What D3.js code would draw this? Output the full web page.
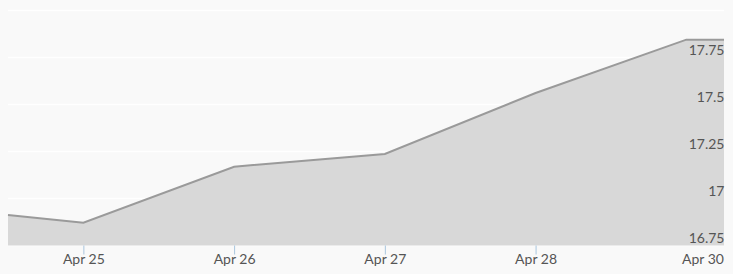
<!DOCTYPE html>
<html>
<head>
<meta charset="utf-8">
<style>
    body { margin: 0; background: #f9f9f9; }
    svg { display: block; }
    .axis text { font-family: Lato, 'Open Sans', sans-serif; font-size: 14px; fill: #555; }
    .x .domain, .y .domain { display: none; }
    .x .tick line { stroke: #a9c6de; }
    .grid line { stroke: #fff; stroke-width: 1.5; }
</style>
</head>
<body>
<svg width="733" height="274"></svg>
<script src="https://d3js.org/d3.v7.min.js"></script>
<script>
    // data
    let dates = ["2024-04-24T12:00", "2024-04-25T00:00", "2024-04-26T00:00", "2024-04-27T00:00",
                 "2024-04-28T00:00", "2024-04-29T00:00", "2024-04-29T06:00"];
    let values = [16.912, 16.871, 17.169, 17.237, 17.561, 17.845, 17.845];
    let yTicks = [16.75, 17, 17.25, 17.5, 17.75];
    let gridTicks = [16.75, 17, 17.25, 17.5, 17.75, 18];
    let xTickDates = ["2024-04-25", "2024-04-26", "2024-04-27", "2024-04-28"];
    let lastLabel = "Apr 30";

    let data = dates.map((d, i) => ({ date: new Date(d), value: values[i] }));

    let svg = d3.select("svg");
    let margin = { top: 10.5, right: 9, bottom: 28.5, left: 8 };
    let width = 733, height = 274;

    let x = d3.scaleTime()
        .domain(d3.extent(data, d => d.date))
        .range([margin.left, width - margin.right]);

    let y = d3.scaleLinear()
        .domain([16.75, 18])
        .range([height - margin.bottom, margin.top]);

    // white grid lines behind the area
    svg.append("g")
        .attr("class", "grid")
        .selectAll("line")
        .data(gridTicks)
        .join("line")
        .attr("x1", margin.left)
        .attr("x2", width - margin.right)
        .attr("y1", d => y(d))
        .attr("y2", d => y(d));

    let area = d3.area()
        .x(d => x(d.date))
        .y0(y(16.75))
        .y1(d => y(d.value));

    let line = d3.line()
        .x(d => x(d.date))
        .y(d => y(d.value));

    svg.append("path")
        .attr("d", area(data))
        .style("fill", "#d8d8d8");

    svg.append("path")
        .attr("d", line(data))
        .style("fill", "none")
        .style("stroke", "#9a9a9a")
        .style("stroke-width", 2);

    // x axis
    let xAxis = svg.append("g")
        .attr("class", "x axis")
        .attr("transform", `translate(0,${y(16.75)})`)
        .call(d3.axisBottom(x)
            .tickValues(xTickDates.map(d => new Date(d + "T00:00")))
            .tickFormat(d3.timeFormat("%b %-d"))
            .tickSize(9)
            .tickPadding(2));
    xAxis.selectAll(".tick text").attr("dy", "0.55em");

    xAxis.append("text")
        .attr("x", x.range()[1])
        .attr("y", 11)
        .attr("dy", "0.55em")
        .attr("text-anchor", "end")
        .text(lastLabel);

    // y axis labels sit just above their grid lines, right aligned
    let yAxis = svg.append("g")
        .attr("class", "y axis")
        .attr("transform", `translate(${width - margin.right + 0.5},0)`)
        .call(d3.axisLeft(y)
            .tickValues(yTicks)
            .tickFormat(d => String(d))
            .tickSize(0)
            .tickPadding(0));
    yAxis.selectAll(".tick text").attr("dy", "-0.2em");
</script>
</body>
</html>
